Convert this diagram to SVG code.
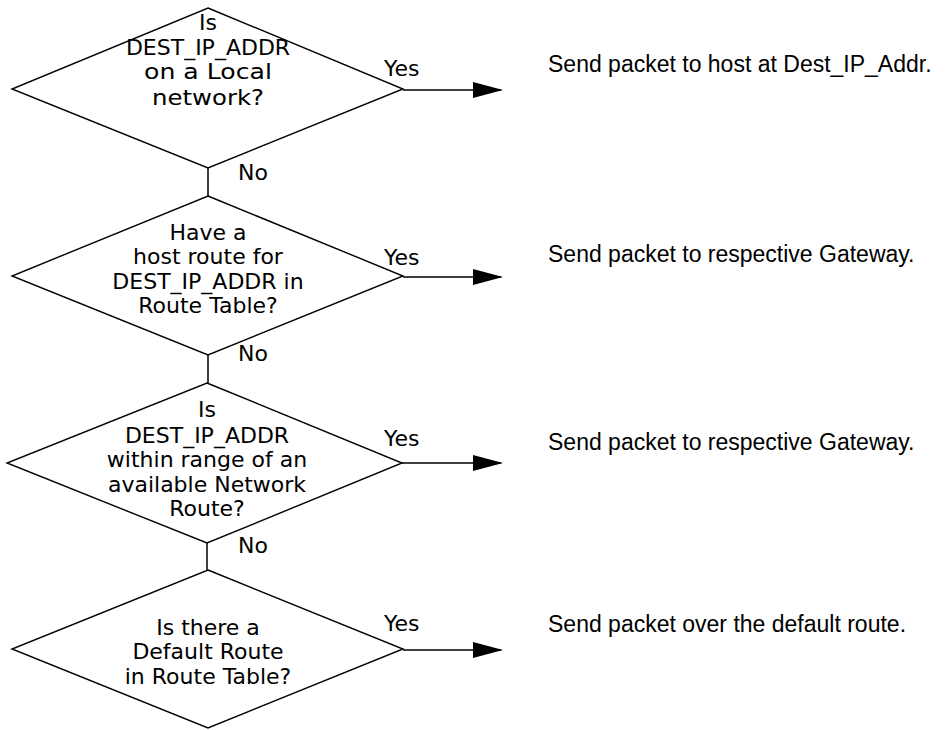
<svg xmlns="http://www.w3.org/2000/svg" width="952" height="730" viewBox="0 0 952 730">
  <style>
    .dia { fill: none; stroke: #000; stroke-width: 1.4; stroke-linejoin: miter; }
    .q { font-family: "DejaVu Sans", "Liberation Sans", sans-serif; font-size: 22px; fill: #000; text-anchor: middle; }
    .lbl { font-family: "DejaVu Sans", "Liberation Sans", sans-serif; font-size: 22px; fill: #000; }
    .act { font-family: "Liberation Sans", Arial, sans-serif; font-size: 23px; fill: #000; }
    .link { fill: none; stroke: #000; stroke-width: 1.5; }
  </style>
  <defs>
    <marker id="head" markerUnits="userSpaceOnUse" viewBox="0 0 30 16" refX="28" refY="8" markerWidth="30" markerHeight="16" orient="auto">
      <path d="M0,0 L30,8 L0,16 Z" fill="#000"/>
    </marker>
  </defs>
  <rect width="952" height="730" fill="#fff"/>

  <!-- connectors -->
  <g id="connectors">
    <line class="link" x1="208" y1="168" x2="208" y2="196"/>
    <line class="link" x1="208" y1="355" x2="208" y2="383"/>
    <line class="link" x1="207" y1="543" x2="207" y2="570"/>
    <line class="link" x1="403" y1="90" x2="501" y2="90" marker-end="url(#head)"/>
    <line class="link" x1="403" y1="277" x2="501" y2="277" marker-end="url(#head)"/>
    <line class="link" x1="402" y1="463" x2="501" y2="463" marker-end="url(#head)"/>
    <line class="link" x1="403" y1="650" x2="501" y2="650" marker-end="url(#head)"/>
    <text class="lbl" x="384" y="76">Yes</text>
    <text class="lbl" x="384" y="265">Yes</text>
    <text class="lbl" x="384" y="446">Yes</text>
    <text class="lbl" x="384" y="631">Yes</text>
    <text class="lbl" x="238" y="180">No</text>
    <text class="lbl" x="238" y="361">No</text>
    <text class="lbl" x="238" y="553">No</text>
  </g>

  <!-- decision 1 -->
  <g id="local-network">
    <polygon class="dia" points="208,8 403,89 208,168 12,89"/>
    <text class="q" x="208" y="30">Is</text>
    <text class="q" x="208" y="55">DEST_IP_ADDR</text>
    <text class="q" x="208" y="79" textLength="128" lengthAdjust="spacingAndGlyphs">on a Local</text>
    <text class="q" x="208" y="105" textLength="112" lengthAdjust="spacingAndGlyphs">network?</text>
  </g>

  <!-- decision 2 -->
  <g id="host-route">
    <polygon class="dia" points="208,196 403,276 208,355 12,276"/>
    <text class="q" x="208" y="240">Have a</text>
    <text class="q" x="208" y="264">host route for</text>
    <text class="q" x="208" y="289">DEST_IP_ADDR in</text>
    <text class="q" x="208" y="313">Route Table?</text>
  </g>

  <!-- decision 3 -->
  <g id="network-route">
    <polygon class="dia" points="207,383 402,463 207,543 7,463"/>
    <text class="q" x="207" y="417">Is</text>
    <text class="q" x="207" y="443">DEST_IP_ADDR</text>
    <text class="q" x="207" y="467">within range of an</text>
    <text class="q" x="207" y="492">available Network</text>
    <text class="q" x="207" y="516">Route?</text>
  </g>

  <!-- decision 4 -->
  <g id="default-route">
    <polygon class="dia" points="208,570 403,649 208,728 12,649"/>
    <text class="q" x="208" y="635">Is there a</text>
    <text class="q" x="208" y="659">Default Route</text>
    <text class="q" x="208" y="684">in Route Table?</text>
  </g>

  <!-- actions -->
  <g id="send-local"><text class="act" x="548" y="72">Send packet to host at Dest_IP_Addr.</text></g>
  <g id="send-host-gw"><text class="act" x="548" y="262">Send packet to respective Gateway.</text></g>
  <g id="send-net-gw"><text class="act" x="548" y="450">Send packet to respective Gateway.</text></g>
  <g id="send-default"><text class="act" x="548" y="632">Send packet over the default route.</text></g>
</svg>
